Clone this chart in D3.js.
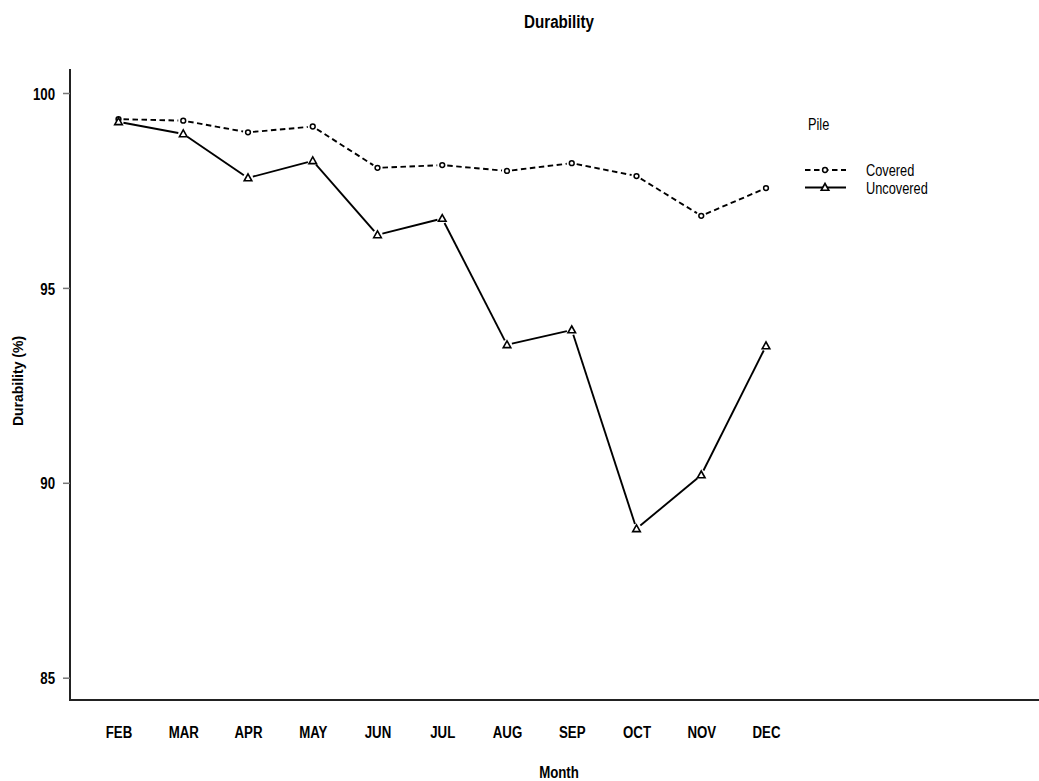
<!DOCTYPE html>
<html><head><meta charset="utf-8">
<script src="https://cdn.jsdelivr.net/npm/d3@7"></script>
<style>
body{margin:0;background:#fff;}
text{font-family:"Liberation Sans",Arial,sans-serif;}
</style></head>
<body><svg id="c" width="1039" height="781"></svg>
<script>
const months = ["FEB","MAR","APR","MAY","JUN","JUL","AUG","SEP","OCT","NOV","DEC"];
const covered = [99.33,99.29,98.99,99.14,98.08,98.15,98.00,98.20,97.87,96.85,97.56];
const uncovered = [99.26,98.95,97.82,98.26,96.36,96.78,93.54,93.92,88.82,90.20,93.51];
const yTicks = [85,90,95,100];
const seriesNames = ["Covered","Uncovered"];

const SX = 0.78;
const svg = d3.select("#c");
const x = d3.scalePoint().domain(months).range([118.5,766]);
const y = d3.scaleLinear().domain([85,100]).range([677.7,93]);

function ctext(px,py,str,size,weight,anchor,sx){
  return svg.append("text").attr("transform",`translate(${px},${py}) scale(${sx},1)`)
    .attr("text-anchor",anchor).attr("font-size",size).attr("font-weight",weight).text(str);
}

// axes lines
svg.append("line").attr("x1",70).attr("x2",70).attr("y1",69).attr("y2",700.5)
  .attr("stroke","#222").attr("stroke-width",2);
svg.append("line").attr("x1",69).attr("x2",1039).attr("y1",700).attr("y2",700)
  .attr("stroke","#222").attr("stroke-width",2);

// y axis ticks via d3 axis
const ya = svg.append("g").attr("transform","translate(70,0)")
  .call(d3.axisLeft(y).tickValues(yTicks).tickSize(7).tickPadding(8).tickFormat(d3.format("d")));
ya.select(".domain").remove();
ya.selectAll(".tick line").attr("stroke","#777").attr("stroke-width",1.5);
ya.selectAll(".tick text").attr("font-size",17).attr("font-weight","bold").attr("fill","#000")
  .attr("x",-15/SX).attr("transform",`scale(${SX},1)`).attr("dy","0.36em");

// x axis labels
const xa = svg.append("g").attr("transform","translate(0,700)")
  .call(d3.axisBottom(x).tickSize(0).tickPadding(26));
xa.select(".domain").remove();
xa.selectAll(".tick text").attr("font-size",17).attr("font-weight","bold").attr("fill","#000")
  .attr("transform",`scale(${SX},1)`);

// titles
ctext(559,27.5,"Durability",19,"bold","middle",0.8);
ctext(559,778,"Month",17,"bold","middle",SX);
svg.append("text").attr("transform","translate(23,381) rotate(-90)").attr("text-anchor","middle")
  .attr("font-size",14).attr("font-weight","bold").text("Durability (%)");

// lines with gaps (type="b")
const gap = 5;
function drawSeries(vals, dash, marker){
  const pts = vals.map((v,i)=>[x(months[i]), y(v)]);
  const g = svg.append("g");
  for(let i=0;i<pts.length-1;i++){
    const [x1,y1]=pts[i],[x2,y2]=pts[i+1];
    const dx=x2-x1, dy=y2-y1, L=Math.hypot(dx,dy);
    if(L<=2*gap) continue;
    const ux=dx/L, uy=dy/L;
    g.append("line").attr("x1",x1+ux*gap).attr("y1",y1+uy*gap)
      .attr("x2",x2-ux*gap).attr("y2",y2-uy*gap)
      .attr("stroke","#000").attr("stroke-width",1.9)
      .attr("stroke-dasharray",dash);
  }
  pts.forEach(p=>marker(g,p[0],p[1]));
}
function circ(g,cx,cy){
  g.append("circle").attr("cx",cx).attr("cy",cy).attr("r",2.4)
   .attr("fill","#fff").attr("stroke","#000").attr("stroke-width",1.5);
}
function tri(g,cx,cy){
  const s=4;
  g.append("path").attr("d",`M${cx},${cy-s}L${cx+s*0.95},${cy+s*0.7}L${cx-s*0.95},${cy+s*0.7}Z`)
   .attr("fill","#fff").attr("stroke","#000").attr("stroke-width",1.6);
}
drawSeries(covered,"5.5,3.5",circ);
drawSeries(uncovered,null,tri);

// legend
ctext(808,129.5,"Pile",16,"normal","start",0.8);
const items = [{name:seriesNames[0],dash:"5.5,3.5",m:circ,yy:170},{name:seriesNames[1],dash:null,m:tri,yy:187.5}];
items.forEach(it=>{
  const lg = svg.append("g");
  lg.append("line").attr("x1",805).attr("x2",846).attr("y1",it.yy).attr("y2",it.yy)
    .attr("stroke","#000").attr("stroke-width",1.9).attr("stroke-dasharray",it.dash);
  it.m(lg,825,it.yy);
  ctext(866,it.yy+6,it.name,16,"normal","start",0.8);
});
</script></body></html>
